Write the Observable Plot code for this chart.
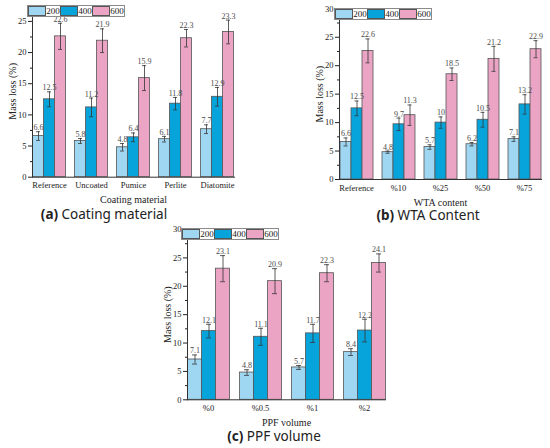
<!DOCTYPE html>
<html><head><meta charset="utf-8">
<script src="https://cdn.jsdelivr.net/npm/d3@7"></script>
<script src="https://cdn.jsdelivr.net/npm/@observablehq/plot@0.6"></script>
<style>
body{margin:0;width:550px;height:448px;position:relative;background:#fff;overflow:hidden}
.panel{position:absolute}
.legend{position:absolute;display:flex;align-items:center;border:1px solid #8a8a8a;height:10px;font:9px "Liberation Serif";background:#fff;color:#222}
.sw{width:18px;height:10px;box-sizing:border-box;border:1px solid #555}
.lt{width:14px;text-align:center;line-height:10px}
.cap{position:absolute;font:13.5px "Noto Sans";line-height:1;color:#222;transform:translate(-50%,-50%);white-space:nowrap}
.cap b{font-weight:700}
</style></head><body>
<script>
const seriesNames = ["200","400","600"];
const colors = ["#9fd6f1","#07a4dc","#eca4c5"];

// (a) Coating material
const catsA = ["Reference","Uncoated","Pumice","Perlite","Diatomite"];
const a200 = [6.6,5.8,4.8,6.1,7.7];
const a400 = [12.5,11.2,6.4,11.8,12.9];
const a600 = [22.6,21.9,15.9,22.3,23.3];
const errA200 = [0.7,0.4,0.6,0.45,0.7];
const errA400 = [1.2,1.5,0.7,1.0,1.5];
const errA600 = [2.1,1.9,2.0,1.4,1.9];
const yTicksA = [0,5,10,15,20,25];
const yMinorA = [2.5,7.5,12.5,17.5,22.5];

// (b) WTA content
const catsB = ["Reference","%10","%25","%50","%75"];
const b200 = [6.6,4.8,5.7,6.2,7.1];
const b400 = [12.5,9.7,10,10.5,13.2];
const b600 = [22.6,11.3,18.5,21.2,22.9];
const errB200 = [0.7,0.2,0.4,0.3,0.4];
const errB400 = [1.3,1.1,1.0,1.3,1.7];
const errB600 = [2.1,1.8,1.1,2.2,1.5];

// (c) PPF volume
const catsC = ["%0","%0.5","%1","%2"];
const c200 = [7.1,4.8,5.7,8.4];
const c400 = [12.1,11.1,11.7,12.2];
const c600 = [23.1,20.9,22.3,24.1];
const errC200 = [0.8,0.5,0.35,0.6];
const errC400 = [1.2,1.5,1.6,2.0];
const errC600 = [2.3,2.2,1.5,1.6];
const yTicksBC = [0,5,10,15,20,25,30];
const yMinorBC = [2.5,7.5,12.5,17.5,22.5,27.5];

function rows(cats, vals, errs){
  const out=[];
  cats.forEach((c,i)=>seriesNames.forEach((s,j)=>out.push({cat:c,s,v:vals[j][i],e:errs[j][i]})));
  return out;
}

function makePanel(o){
  const data = rows(o.cats, o.vals, o.errs);
  const svg = Plot.plot({
    width:o.width, height:o.height,
    marginLeft:o.ml, marginRight:o.mr, marginTop:o.mt, marginBottom:o.mb,
    style:{fontFamily:"Liberation Serif", fontSize:"8.5px", color:"#222", background:"transparent", overflow:"visible"},
    fx:{domain:o.cats, paddingInner:0.2, paddingOuter:0.1},
    x:{domain:seriesNames, padding:0, axis:null},
    y:{domain:[0,o.yMax]},
    color:{domain:seriesNames, range:colors},
    marks:[
      Plot.barY(data,{fx:"cat",x:"s",y:"v",fill:"s",stroke:"#555",strokeWidth:0.8}),
      Plot.ruleX(data,{fx:"cat",x:"s",y1:d=>d.v-d.e,y2:d=>d.v+d.e,stroke:"#333",strokeWidth:0.8}),
      Plot.tickY(data,{fx:"cat",x:"s",y:d=>d.v+d.e,insetLeft:o.cap,insetRight:o.cap,stroke:"#333",strokeWidth:0.8}),
      Plot.tickY(data,{fx:"cat",x:"s",y:d=>d.v-d.e,insetLeft:o.cap,insetRight:o.cap,stroke:"#333",strokeWidth:0.8}),
      Plot.text(data,{fx:"cat",x:"s",y:d=>d.v+d.e,text:d=>String(d.v),dy:-1.5,lineAnchor:"bottom",fill:"#4a4a4a",fontSize:8}),
      Plot.axisY({ticks:o.yTicks,tickSize:4,tickPadding:2,label:null,fontSize:8.5}),
      Plot.axisY({ticks:[],label:"Mass loss (%)",labelArrow:"none",labelAnchor:"center",labelOffset:24,fontSize:10}),
      Plot.axisY({ticks:o.yMinor,tickSize:2,text:null,label:null}),
      Plot.axisFx({anchor:"bottom",tickSize:0,tickPadding:5,label:null,fontSize:8.5}),
      Plot.axisFx({anchor:"bottom",ticks:[],label:o.xLabel,labelArrow:"none",labelAnchor:"center",labelOffset:26,fontSize:10}),
      Plot.frame({anchor:"bottom",facet:"super",stroke:"#333",strokeWidth:1}),
      Plot.frame({anchor:"left",facet:"super",stroke:"#333",strokeWidth:1})
    ]
  });
  const div=document.createElement("div");
  div.className="panel";
  div.style.left=o.left+"px"; div.style.top=o.top+"px";
  div.appendChild(svg);
  document.body.appendChild(div);
  // legend
  const lg=document.createElement("div");
  lg.className="legend";
  lg.style.left=o.lgx+"px"; lg.style.top=o.lgy+"px";
  seriesNames.forEach((s,i)=>{
    const sw=document.createElement("div"); sw.className="sw"; sw.style.background=colors[i];
    const t=document.createElement("div"); t.className="lt"; t.textContent=s;
    lg.appendChild(sw); lg.appendChild(t);
  });
  document.body.appendChild(lg);
  const cap=document.createElement("div");
  cap.className="cap"; cap.style.left=o.capx+"px"; cap.style.top=o.capy+"px";
  cap.innerHTML="<b>("+o.letter+")</b> "+o.caption;
  document.body.appendChild(cap);
}

makePanel({cats:catsA,vals:[a200,a400,a600],errs:[errA200,errA400,errA600],yMax:27.55,yTicks:yTicksA,yMinor:yMinorA,
  xLabel:"Coating material",width:245,height:205,ml:27.5,mr:6,mt:5,mb:28.3,left:0,top:0,cap:3.5,
  lgx:27,lgy:5,capx:104,capy:215,letter:"a",caption:"Coating material"});
makePanel({cats:catsB,vals:[b200,b400,b600],errs:[errB200,errB400,errB600],yMax:30,yTicks:yTicksBC,yMinor:yMinorBC,
  xLabel:"WTA content",width:250,height:210,ml:34,mr:5,mt:8.3,mb:31,left:300,top:0,cap:3.5,
  lgx:334,lgy:8,capx:428,capy:216,letter:"b",caption:"WTA Content"});
makePanel({cats:catsC,vals:[c200,c400,c600],errs:[errC200,errC400,errC600],yMax:30,yTicks:yTicksBC,yMinor:yMinorBC,
  xLabel:"PPF volume",width:260,height:212,ml:40.5,mr:8,mt:9,mb:32.7,left:140,top:220,cap:4.5,
  lgx:181,lgy:228,capx:274,capy:437,letter:"c",caption:"PPF volume"});
</script>
</body></html>
